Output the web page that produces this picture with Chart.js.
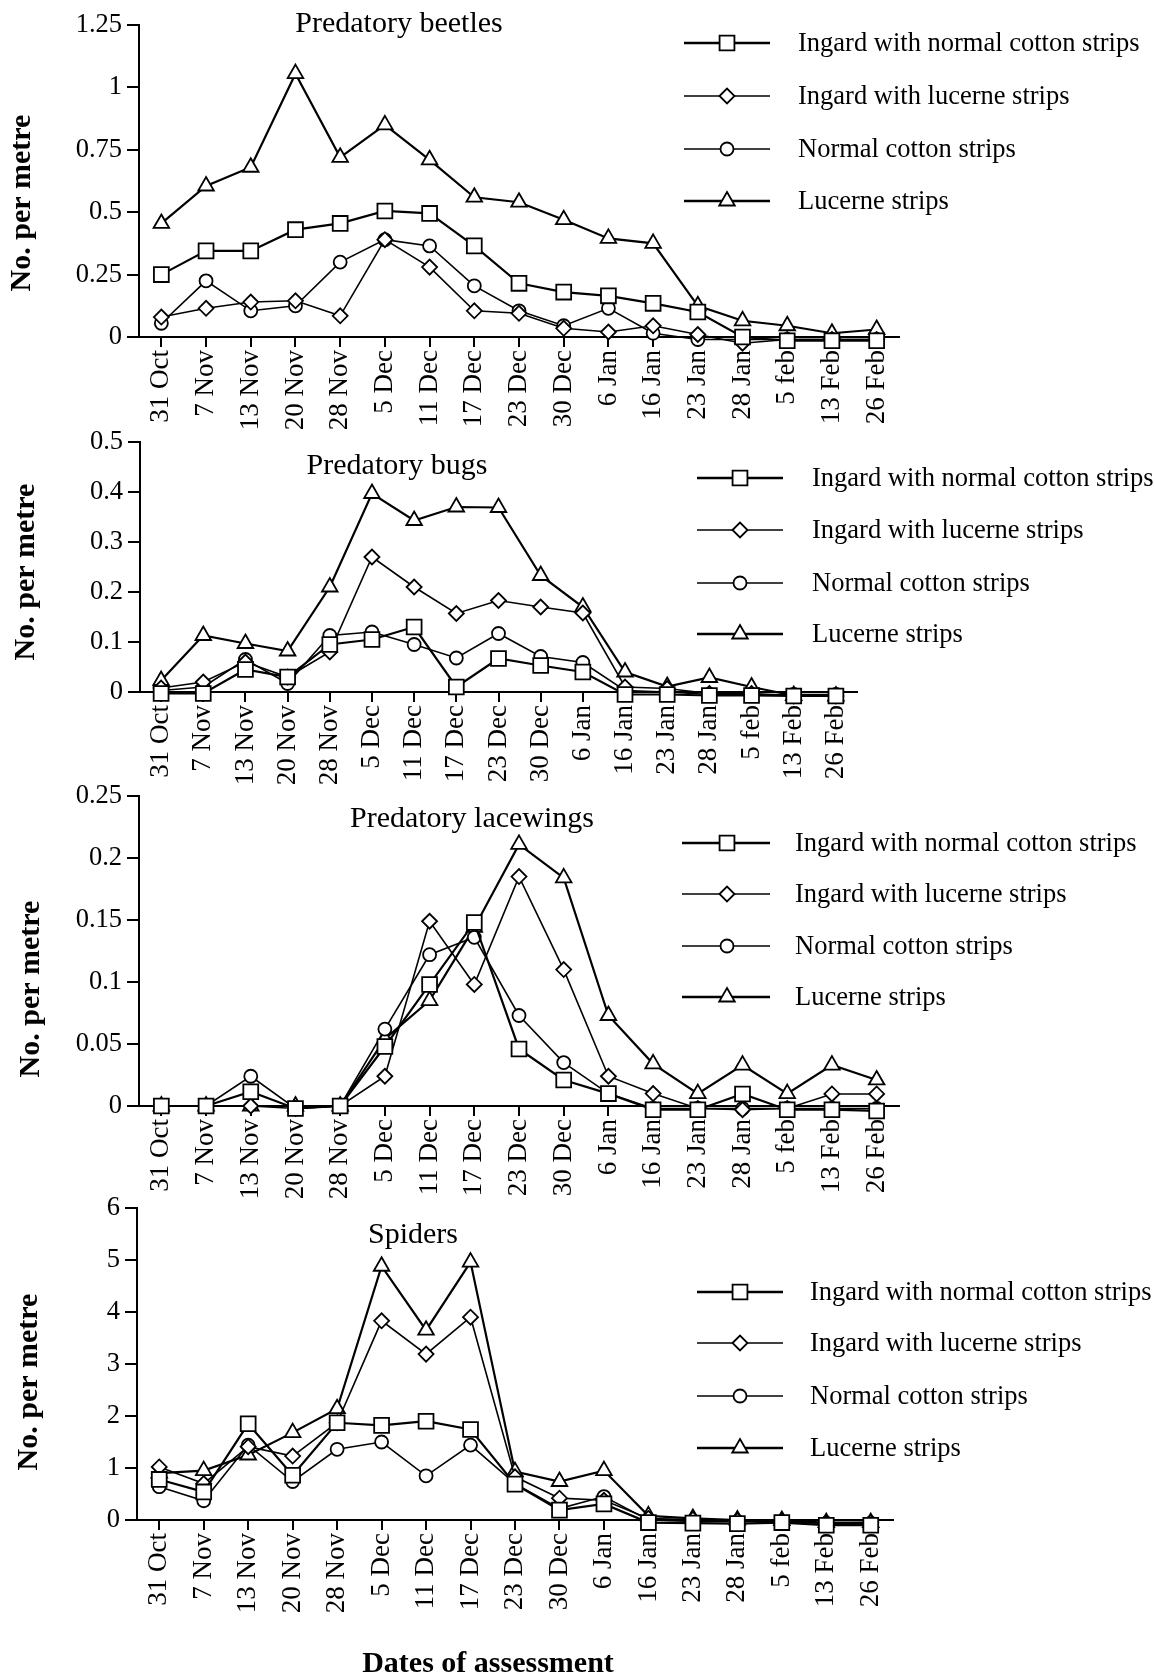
<!DOCTYPE html>
<html lang="en">
<head>
<meta charset="UTF-8">
<title>Predators per metre</title>
<script src="https://cdn.jsdelivr.net/npm/chart.js"></script>
<style>
  html, body { margin: 0; padding: 0; background: #fff; }
  #page { position: relative; width: 1155px; height: 1677px; overflow: hidden; }
  #page canvas { position: absolute; left: 0; }
</style>
</head>
<body>
<div id="page">
  <canvas id="beetles" width="1155" height="440" style="top:0px"></canvas>
  <canvas id="bugs" width="1155" height="375" style="top:420px"></canvas>
  <canvas id="lacewings" width="1155" height="425" style="top:775px"></canvas>
  <canvas id="spiders" width="1155" height="497" style="top:1180px"></canvas>
</div>
<script>
// dates of assessment
const dates = ['31 Oct', '7 Nov', '13 Nov', '20 Nov', '28 Nov', '5 Dec', '11 Dec', '17 Dec', '23 Dec',
    '30 Dec', '6 Jan', '16 Jan', '23 Jan', '28 Jan', '5 feb', '13 Feb', '26 Feb'];
const seriesNames = ['Ingard with normal cotton strips', 'Ingard with lucerne strips', 'Normal cotton strips', 'Lucerne strips'];

// Predatory beetles
const beetlesIngardCotton = [0.25, 0.345, 0.345, 0.43, 0.455, 0.505, 0.495, 0.365, 0.215, 0.18, 0.165, 0.135, 0.1, 0, -0.015, -0.015, -0.015];
const beetlesIngardLucerne = [0.08, 0.115, 0.14, 0.145, 0.085, 0.39, 0.28, 0.105, 0.095, 0.035, 0.02, 0.045, 0.01, -0.025, -0.01, -0.01, -0.01];
const beetlesCotton = [0.055, 0.225, 0.105, 0.125, 0.3, 0.39, 0.365, 0.205, 0.105, 0.045, 0.115, 0.015, -0.01, -0.01, -0.01, -0.01, -0.01];
const beetlesLucerne = [0.455, 0.605, 0.68, 1.055, 0.72, 0.85, 0.71, 0.56, 0.54, 0.47, 0.395, 0.375, 0.125, 0.065, 0.045, 0.015, 0.03];
const beetlesTicks = [0, 0.25, 0.5, 0.75, 1, 1.25];
const beetlesTickLabels = ['0', '0.25', '0.5', '0.75', '1', '1.25'];

// Predatory bugs
const bugsIngardCotton = [-0.003, -0.003, 0.045, 0.03, 0.095, 0.105, 0.13, 0.01, 0.067, 0.053, 0.04, -0.005, -0.005, -0.007, -0.007, -0.008, -0.008];
const bugsIngardLucerne = [0.008, 0.02, 0.06, 0.03, 0.08, 0.27, 0.21, 0.157, 0.183, 0.17, 0.158, 0.01, 0.007, -0.003, -0.003, -0.008, -0.008];
const bugsCotton = [0.003, 0.01, 0.065, 0.017, 0.113, 0.12, 0.095, 0.068, 0.117, 0.071, 0.059, 0.003, 0, -0.005, -0.005, -0.005, -0.005];
const bugsLucerne = [0.023, 0.113, 0.097, 0.082, 0.21, 0.397, 0.343, 0.37, 0.369, 0.233, 0.17, 0.04, 0.011, 0.029, 0.01, -0.007, -0.008];
const bugsTicks = [0, 0.1, 0.2, 0.3, 0.4, 0.5];
const bugsTickLabels = ['0', '0.1', '0.2', '0.3', '0.4', '0.5'];

// Predatory lacewings
const lacewingsIngardCotton = [0, 0, 0.0115, -0.002, 0, 0.048, 0.098, 0.148, 0.046, 0.021, 0.01, -0.003, -0.003, 0.0097, -0.003, -0.003, -0.004];
const lacewingsIngardLucerne = [0, 0, 0, -0.002, 0, 0.024, 0.149, 0.098, 0.185, 0.11, 0.024, 0.01, -0.002, -0.003, -0.002, 0.0097, 0.0097];
const lacewingsCotton = [0, 0, 0.024, -0.002, 0, 0.062, 0.122, 0.136, 0.073, 0.035, 0.01, -0.002, -0.002, -0.002, -0.002, -0.002, -0.002];
const lacewingsLucerne = [0, 0, 0, 0, 0, 0.054, 0.085, 0.144, 0.211, 0.184, 0.073, 0.034, 0.01, 0.033, 0.01, 0.033, 0.021];
const lacewingsTicks = [0, 0.05, 0.1, 0.15, 0.2, 0.25];
const lacewingsTickLabels = ['0', '0.05', '0.1', '0.15', '0.2', '0.25'];

// Spiders
const spidersIngardCotton = [0.78, 0.54, 1.85, 0.86, 1.87, 1.82, 1.9, 1.74, 0.69, 0.19, 0.31, -0.05, -0.06, -0.07, -0.05, -0.1, -0.1];
const spidersIngardLucerne = [1.02, 0.7, 1.41, 1.23, 1.87, 3.83, 3.19, 3.9, 0.83, 0.42, 0.38, 0.03, 0.01, -0.01, -0.03, -0.06, -0.05];
const spidersCotton = [0.64, 0.37, 1.44, 0.74, 1.36, 1.5, 0.85, 1.44, 0.7, 0.22, 0.45, 0, -0.03, -0.03, -0.03, -0.06, -0.06];
const spidersLucerne = [0.9, 0.95, 1.25, 1.68, 2.14, 4.88, 3.65, 4.96, 0.93, 0.74, 0.95, 0.08, 0.03, 0, -0.01, -0.05, -0.05];
const spidersTicks = [0, 1, 2, 3, 4, 5, 6];
const spidersTickLabels = ['0', '1', '2', '3', '4', '5', '6'];

// styles
const serif = '"Liberation Serif", "DejaVu Serif", serif';
const markers = ['rect', 'rectRot', 'circle', 'triangle'];
const markerRadius = [10.5, 7.5, 6.5, 9];
const lineWidths = [2.2, 1.6, 1.6, 2.2];
const legendLineWidths = [2.4, 1.4, 1.4, 2.4];

// titles, legends and axis titles drawn at page coordinates
const panelText = {
    id: 'panelText',
    afterDraw(chart, args, o) {
        const ctx = chart.ctx;
        const t = o.canvasTop;
        ctx.save();
        ctx.fillStyle = '#000';
        ctx.strokeStyle = '#000';
        ctx.textBaseline = 'middle';

        ctx.font = '30px ' + serif;
        ctx.textAlign = 'center';
        ctx.fillText(o.title, o.titleX, o.titleY - t);

        ctx.save();
        ctx.translate(o.yTitleX, o.yTitleY - t);
        ctx.rotate(-Math.PI / 2);
        ctx.font = 'bold 30px ' + serif;
        ctx.fillText('No. per metre', 0, 0);
        ctx.restore();

        if (o.xTitle) {
            ctx.font = 'bold 30px ' + serif;
            ctx.fillText(o.xTitle, o.xTitleX, o.xTitleY - t);
        }

        ctx.font = '26.5px ' + serif;
        ctx.textAlign = 'left';
        o.rows.forEach((y, i) => {
            const yy = y - t;
            ctx.lineWidth = legendLineWidths[i];
            ctx.beginPath();
            ctx.moveTo(o.lineX[0], yy);
            ctx.lineTo(o.lineX[1], yy);
            ctx.stroke();
            ctx.fillStyle = '#fff';
            ctx.lineWidth = 1.8;
            Chart.helpers.drawPoint(ctx, {pointStyle: markers[i], radius: markerRadius[i], rotation: 0, borderWidth: 1.8}, o.markerX, yy);
            ctx.fillStyle = '#000';
            ctx.fillText(seriesNames[i], o.textX, yy + 1);
        });
        ctx.restore();
    }
};

function makePanel(id, p) {
    const canvas = document.getElementById(id);
    const canvasH = canvas.height;
    return new Chart(canvas, {
        type: 'line',
        data: {
            labels: dates,
            datasets: p.series.map((d, i) => ({
                label: seriesNames[i],
                data: d,
                borderColor: '#000',
                borderWidth: lineWidths[i],
                pointStyle: markers[i],
                pointRadius: markerRadius[i],
                pointBorderWidth: 1.8,
                pointBorderColor: '#000',
                pointBackgroundColor: '#fff',
                tension: 0,
                fill: false,
                clip: false
            }))
        },
        options: {
            responsive: false,
            animation: false,
            events: [],
            layout: {padding: {left: 0, top: p.area.top - p.canvasTop, right: 1155 - p.area.right, bottom: 0}},
            plugins: {
                legend: {display: false},
                tooltip: {enabled: false},
                panelText: p.text
            },
            scales: {
                x: {
                    offset: true,
                    grid: {offset: false, drawOnChartArea: false, drawTicks: true, tickLength: 10, color: '#000', lineWidth: 2},
                    border: {color: '#000', width: 2},
                    ticks: {color: '#000', font: {family: serif, size: 27}, minRotation: 90, maxRotation: 90, padding: 3, autoSkip: false},
                    afterFit: s => { s.height = canvasH - (p.area.bottom - p.canvasTop); }
                },
                y: {
                    min: p.ticks[0],
                    max: p.ticks[p.ticks.length - 1],
                    afterBuildTicks: s => { s.ticks = p.ticks.map(v => ({value: v})); },
                    grid: {drawOnChartArea: false, drawTicks: true, tickLength: 12, color: '#000', lineWidth: 2},
                    border: {color: '#000', width: 2},
                    ticks: {color: '#000', font: {family: serif, size: 26.5}, padding: 5, callback: (v, i) => p.tickLabels[i]},
                    afterFit: s => { s.width = p.area.left; }
                }
            }
        },
        plugins: [panelText]
    });
}

makePanel('beetles', {
    canvasTop: 0,
    area: {left: 139, right: 899, top: 25, bottom: 337},
    series: [beetlesIngardCotton, beetlesIngardLucerne, beetlesCotton, beetlesLucerne],
    ticks: beetlesTicks, tickLabels: beetlesTickLabels,
    text: {canvasTop: 0, title: 'Predatory beetles', titleX: 399, titleY: 24, yTitleX: 22, yTitleY: 203,
        lineX: [684, 770], markerX: 727, textX: 798, rows: [43, 96, 149, 201]}
});

makePanel('bugs', {
    canvasTop: 420,
    area: {left: 140, right: 857, top: 442, bottom: 692},
    series: [bugsIngardCotton, bugsIngardLucerne, bugsCotton, bugsLucerne],
    ticks: bugsTicks, tickLabels: bugsTickLabels,
    text: {canvasTop: 420, title: 'Predatory bugs', titleX: 397, titleY: 466, yTitleX: 26, yTitleY: 572,
        lineX: [697, 783], markerX: 740, textX: 812, rows: [478, 530, 583, 634]}
});

makePanel('lacewings', {
    canvasTop: 775,
    area: {left: 139, right: 899, top: 796, bottom: 1106},
    series: [lacewingsIngardCotton, lacewingsIngardLucerne, lacewingsCotton, lacewingsLucerne],
    ticks: lacewingsTicks, tickLabels: lacewingsTickLabels,
    text: {canvasTop: 775, title: 'Predatory lacewings', titleX: 472, titleY: 819, yTitleX: 31, yTitleY: 989,
        lineX: [682, 770], markerX: 727, textX: 795, rows: [843, 894, 946, 997]}
});

makePanel('spiders', {
    canvasTop: 1180,
    area: {left: 137, right: 893, top: 1208, bottom: 1520},
    series: [spidersIngardCotton, spidersIngardLucerne, spidersCotton, spidersLucerne],
    ticks: spidersTicks, tickLabels: spidersTickLabels,
    text: {canvasTop: 1180, title: 'Spiders', titleX: 413, titleY: 1235, yTitleX: 29, yTitleY: 1382,
        lineX: [697, 783], markerX: 740, textX: 810, rows: [1292, 1343, 1396, 1448],
        xTitle: 'Dates of assessment', xTitleX: 488, xTitleY: 1664}
});
</script>
</body>
</html>
